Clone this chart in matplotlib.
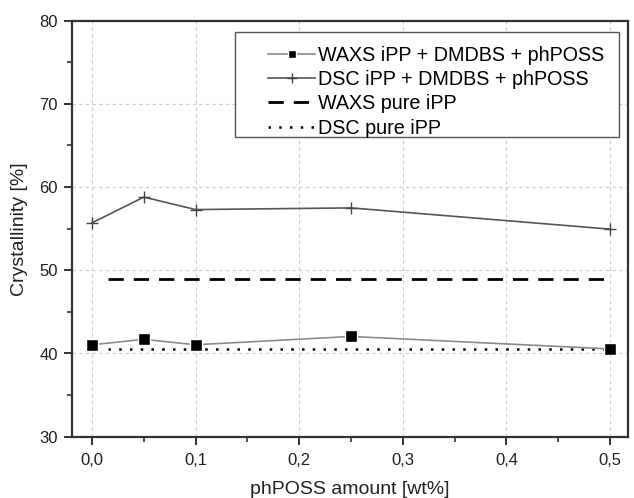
import matplotlib
matplotlib.use("Agg")
import matplotlib.pyplot as plt
from matplotlib.ticker import MultipleLocator, FuncFormatter
from matplotlib.patches import Rectangle

plt.rcParams['font.family'] = ['Liberation Sans', 'DejaVu Sans']

x = [0.0, 0.05, 0.1, 0.25, 0.5]
waxs = [41.05, 41.7, 41.05, 42.05, 40.55]
dsc = [55.7, 58.8, 57.3, 57.5, 54.95]
waxs_pure = 48.95
dsc_pure = 40.5
pure_x = [0.015, 0.5]

fig = plt.figure(figsize=(6.34, 4.98), dpi=100)
ax = fig.add_axes([72/634, 1-436.7/498, 556/634, 416/498])

ax.plot(x, waxs, color='#8a8a8a', lw=1.2, marker='s', ms=8, mfc='black', mec='white', mew=1.0,
        label='WAXS iPP + DMDBS + phPOSS', zorder=4)
ax.plot(x, dsc, color='#555555', lw=1.2, marker='+', ms=9, mew=1.0, mec='#444444',
        label='DSC iPP + DMDBS + phPOSS', zorder=4)
ax.plot(pure_x, [waxs_pure]*2, color='black', lw=2.0, ls=(0, (5.5, 3.6)), label='WAXS pure iPP', zorder=3)
ax.plot(pure_x, [dsc_pure]*2, color='black', lw=1.8, ls=(0, (1, 3.3)), label='DSC pure iPP', zorder=3)

ax.set_xlim(-0.0193, 0.5174)
ax.set_ylim(30, 80)
ax.xaxis.set_major_locator(MultipleLocator(0.1))
ax.xaxis.set_minor_locator(MultipleLocator(0.05))
ax.yaxis.set_major_locator(MultipleLocator(10))
ax.yaxis.set_minor_locator(MultipleLocator(5))
ax.xaxis.set_major_formatter(FuncFormatter(lambda v, p: f"{v:.1f}".replace('.', ',')))
ax.tick_params(which='major', direction='out', length=6, width=1.4, labelsize=12,
               color='#333333', labelcolor='#222222')
ax.tick_params(axis='x', which='major', pad=6)
ax.tick_params(axis='y', which='major', pad=4)
ax.tick_params(which='minor', direction='out', length=3.5, width=1.2, color='#333333')
ax.grid(True, which='major', ls=(0, (3, 3)), color='#cccccc', lw=0.8)
for s in ax.spines.values():
    s.set_linewidth(1.6)
    s.set_color('#333333')

ax.set_xlabel('phPOSS amount [wt%]', fontsize=14, color='#222222', labelpad=9)
ax.set_ylabel('Crystallinity [%]', fontsize=14, color='#222222', labelpad=8)

# legend frame
ax.add_patch(Rectangle((0.2926, 0.7204), 0.6904, 0.2532, transform=ax.transAxes,
                       fill=True, facecolor='white', edgecolor='#555555', lw=1.0, zorder=5))
leg = ax.legend(loc='upper left', bbox_to_anchor=(0.3525, 0.940), fontsize=14.2, frameon=False,
                handlelength=2.4, handletextpad=0.15, labelspacing=0.27, borderpad=0,
                borderaxespad=0, markerscale=0.75)
leg.set_zorder(6)

fig.savefig('out.png', dpi=100)
